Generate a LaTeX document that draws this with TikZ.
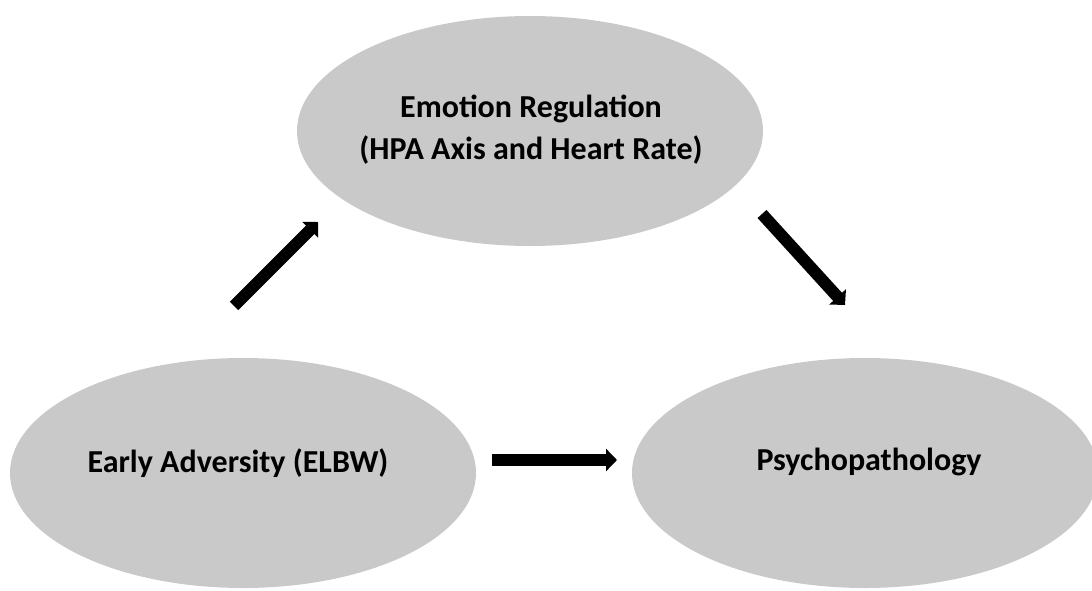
\documentclass[tikz,border=0pt]{standalone}
\usepackage{fontspec}
\setmainfont{Carlito}
\usetikzlibrary{arrows.meta,shapes.geometric}
\definecolor{ovalgray}{HTML}{C9C9C9}
\tikzset{
  oval/.style={ellipse, fill=ovalgray, draw=none, minimum width=466pt, minimum height=230pt, inner sep=0pt},
  lbl/.style={font=\fontsize{32}{42}\selectfont\bfseries, align=center, inner sep=0pt},
  bigarrow/.style={line width=12pt, -{Triangle[width=22pt,length=11pt]}}
}
\begin{document}
\begin{tikzpicture}[x=1pt,y=1pt]
\useasboundingbox (0,0) rectangle (1092,-591);
\begin{scope}
\clip (0,0) rectangle (1092,-591);
\node[oval] (er) at (530,-131) {};
\node[oval] (ea) at (243,-473) {};
\node[oval] (ps) at (865,-473) {};
\end{scope}
\node[lbl] (erl) at (531,-130) {Emotion Regulation\\(HPA Axis and Heart Rate)};
\node[lbl, anchor=base] (eal) at (238,-472) {Early Adversity (ELBW)};
\node[lbl, anchor=base] (psl) at (869,-470) {Psychopathology};
\coordinate (a1s) at (234,-306);
\coordinate (a1e) at (318,-222);
\coordinate (a2s) at (762,-214);
\coordinate (a2e) at (845,-305);
\coordinate (a3s) at (492,-460);
\coordinate (a3e) at (617,-460);
\draw[bigarrow] (a1s) -- (a1e);
\draw[bigarrow] (a2s) -- (a2e);
\draw[bigarrow] (a3s) -- (a3e);
\end{tikzpicture}
\end{document}
